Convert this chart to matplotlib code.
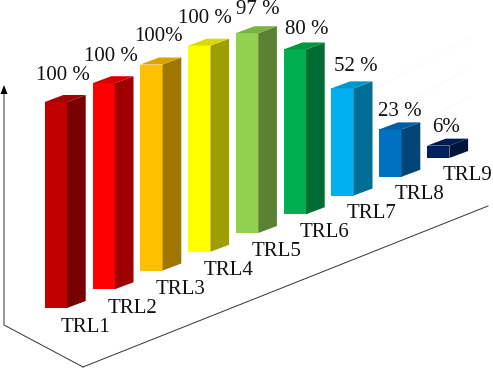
import numpy as np
import matplotlib.pyplot as plt

plt.rcParams['font.family'] = ['Liberation Serif', 'DejaVu Serif']

categories = ['TRL1', 'TRL2', 'TRL3', 'TRL4', 'TRL5', 'TRL6', 'TRL7', 'TRL8', 'TRL9']
values = [100, 100, 100, 100, 97, 80, 52, 23, 6]
value_labels = ['100 %', '100 %', '100%', '100 %', '97 %', '80 %', '52 %', '23 %', '6%']
front_colors = ['#c00000', '#ff0000', '#ffc000', '#ffff00', '#92d050',
                '#00b050', '#00b0f0', '#0070c0', '#002060']


def shade(color, k):
    r, g, b = [int(color[i:i + 2], 16) / 255 for i in (1, 3, 5)]
    return (r * k, g * k, b * k)


fig = plt.figure(figsize=(4.93, 3.68), dpi=100)
ax = fig.add_axes([0, 0, 1, 1])
ax.set_xlim(0, 493)
ax.set_ylim(368, 0)
ax.axis('off')

# fake 3d layout, everything in image pixels
bar_w = 22.3
depth_x, depth_y = 18.7, 7.0
step_x, step_y = 47.8, 18.75
left0, bottom0 = 44.7, 308.0
px_per_unit = 2.06
value_gap = [27, 27, 28, 27, 24, 20, 22, 18, 18]
value_shift = [18, 18, 18, 17, 22, 23, 24, 21, 19]

# faint back wall lines
for y0, y1 in [(90, 42), (122, 72), (150, 100)]:
    ax.plot([372, 470], [y0, y1 - 4], color='#fafafa', lw=0.7, zorder=1)

# floor and vertical axis
ax.plot([83, 4, 4], [367, 325, 90], color='#333333', lw=0.7, zorder=2)
ax.plot([83, 488], [367, 206], color='#333333', lw=0.7, zorder=2)
ax.fill([0.5, 7.5, 4], [94, 94, 85], color='black', lw=0, zorder=2)

for i, (name, val, txt, col) in enumerate(zip(categories, values, value_labels, front_colors)):
    left = left0 + i * step_x
    right = left + bar_w
    bottom = bottom0 - i * step_y
    top = bottom - val * px_per_unit
    z = 5 + i

    ax.fill([left, right, right, left], [bottom, bottom, top, top],
            color=col, lw=0, zorder=z)
    ax.fill([right, right + depth_x, right + depth_x, right],
            [bottom, bottom - depth_y, top - depth_y, top],
            color=shade(col, 0.62), lw=0, zorder=z)
    ax.fill([left, right, right + depth_x, left + depth_x],
            [top, top, top - depth_y, top - depth_y],
            color=shade(col, 0.85), lw=0, zorder=z)

    ax.text(left + value_shift[i], top - value_gap[i], txt, fontsize=15, ha='center', va='center',
            color='#111111', zorder=30)
    ax.text(left + 40.5, bottom + 19 - i * 0.2, name, fontsize=15, ha='center', va='center',
            color='#111111', zorder=30)

fig.savefig('out.png', dpi=100)
